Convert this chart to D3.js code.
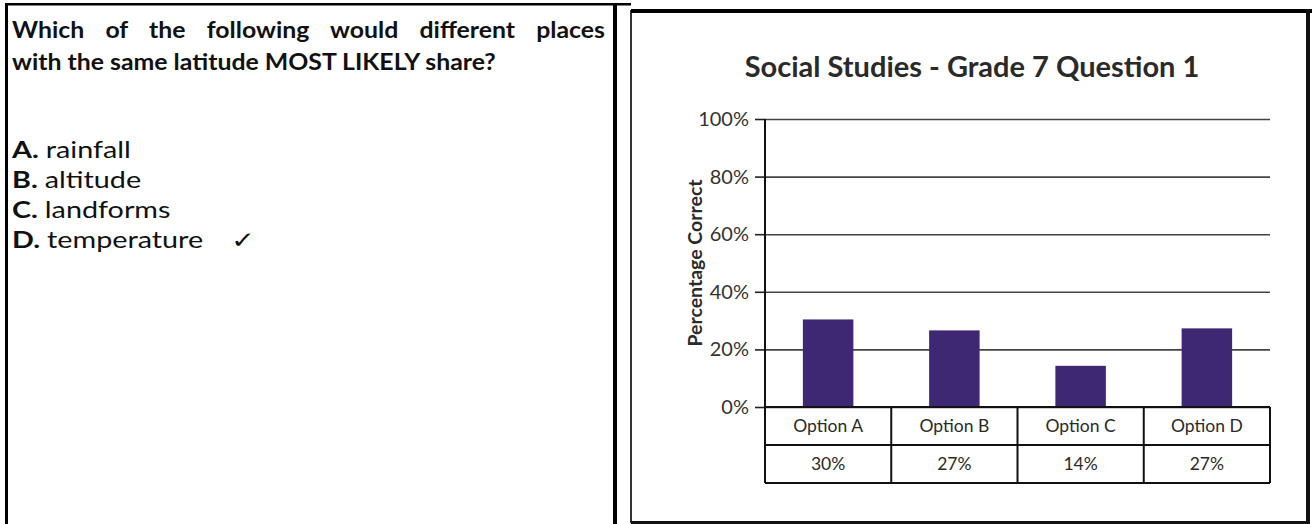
<!DOCTYPE html>
<html>
<head>
<meta charset="utf-8">
<script src="https://cdn.jsdelivr.net/npm/d3@7"></script>
<style>
  body { margin: 0; background: #fff; }
  svg { display: block; }
  .q { font-family: Lato, sans-serif; fill: #111; }
  .ch { font-family: Lato, sans-serif; fill: #2a2a2a; }
</style>
</head>
<body>
<section></section>
<script>
// question panel text
const question = ['Which of the following would different places', 'with the same latitude MOST LIKELY share?'];
const answerKeys = ['A.', 'B.', 'C.', 'D.'];
const answerText = ['rainfall', 'altitude', 'landforms', 'temperature'];
const correct = 'D.';

// chart data
const categories = ['Option A', 'Option B', 'Option C', 'Option D'];
const values = [30.4, 26.6, 14.3, 27.3];
const yticks = [0, 20, 40, 60, 80, 100];

const svg = d3.select('section')
  .append('svg')
  .attr('width', 1312)
  .attr('height', 524);

// outer frame of the two cells
svg.append('rect').attr('x', 5).attr('y', 3).attr('width', 3).attr('height', 521).attr('fill', '#000');
svg.append('rect').attr('x', 5).attr('y', 3).attr('width', 626).attr('height', 2.5).attr('fill', '#000');
svg.append('rect').attr('x', 613).attr('y', 3).attr('width', 4).attr('height', 521).attr('fill', '#000');

// chart picture box
svg.append('rect').attr('x', 631).attr('y', 11).attr('width', 676).attr('height', 511)
  .attr('fill', '#fff').attr('stroke', '#333').attr('stroke-width', 2);
svg.append('rect').attr('x', 631).attr('y', 9).attr('width', 681).attr('height', 4).attr('fill', '#000');
svg.append('rect').attr('x', 1306).attr('y', 9).attr('width', 4).attr('height', 515).attr('fill', '#111');
svg.append('rect').attr('x', 631).attr('y', 521).attr('width', 679).attr('height', 3).attr('fill', '#111');

// question, first line justified with word spacing
const qx = 1.08;
const qg = svg.append('g').attr('transform', `translate(12, 0) scale(${qx}, 1)`);
const q1 = qg.append('text').attr('class', 'q')
  .attr('x', 0).attr('y', 38)
  .attr('font-size', 23).attr('font-weight', 700)
  .text(question[0]);
const natural = q1.node().getComputedTextLength();
const gaps = question[0].split(' ').length - 1;
q1.attr('word-spacing', Math.max(0, (593 / qx - natural) / gaps));

qg.append('text').attr('class', 'q')
  .attr('x', 0).attr('y', 70)
  .attr('font-size', 23).attr('font-weight', 700)
  .text(question[1]);

// answers (wide in the source)
const sx = 1.25;
const ag = svg.append('g').attr('transform', `translate(12, 0) scale(${sx}, 1)`);
const ans = ag.selectAll('.ans')
  .data(answerKeys)
  .enter()
  .append('text')
  .attr('class', 'q ans')
  .attr('x', 0)
  .attr('y', (d, i) => 158 + i * 30)
  .attr('font-size', 23);
ans.append('tspan').attr('font-weight', 700).text(d => d + ' ');
ans.append('tspan').text((d, i) => answerText[i]);
ans.filter(d => d === correct).append('tspan').attr('dx', 22).text('\u2713');

// chart
const left = 765, right = 1270;
const xscale = d3.scaleBand().domain(categories).range([left, right]);
const yscale = d3.scaleLinear().domain([0, 100]).range([407, 119]);

svg.append('text').attr('class', 'ch')
  .attr('x', 972).attr('y', 77)
  .attr('text-anchor', 'middle')
  .attr('font-size', 29).attr('font-weight', 700)
  .attr('fill', '#222')
  .text('Social Studies - Grade 7 Question 1');

// gridlines
const grid = svg.append('g')
  .attr('transform', `translate(${left}, 0)`)
  .call(d3.axisLeft(yscale).tickValues(yticks).tickSize(-(right - left)).tickFormat(''));
grid.select('.domain').remove();
grid.selectAll('line').attr('stroke', '#444').attr('stroke-width', 1.6);

// tick marks and labels
const yaxis = svg.append('g')
  .attr('transform', `translate(${left}, 0)`)
  .call(d3.axisLeft(yscale).tickValues(yticks).tickSize(10).tickPadding(6).tickFormat(d => d + '%'));
yaxis.select('.domain').remove();
yaxis.selectAll('line').attr('stroke', '#222').attr('stroke-width', 1.6);
yaxis.selectAll('text')
  .attr('font-family', 'Lato, sans-serif')
  .attr('font-size', 20)
  .attr('fill', '#333');

svg.append('text').attr('class', 'ch')
  .attr('transform', `translate(702, ${(yscale(20) + yscale(80)) / 2}) rotate(-90)`)
  .attr('text-anchor', 'middle')
  .attr('font-size', 19.5).attr('font-weight', 700)
  .attr('fill', '#222')
  .text('Percentage Correct');

// bars
const bw = xscale.bandwidth() * 0.4;
svg.selectAll('.bar')
  .data(values)
  .enter()
  .append('rect')
  .attr('class', 'bar')
  .attr('x', (d, i) => xscale(categories[i]) + (xscale.bandwidth() - bw) / 2)
  .attr('y', d => yscale(d))
  .attr('width', bw)
  .attr('height', d => yscale(0) - yscale(d))
  .attr('fill', '#3f2873');

// vertical axis line running through the data table
const rowH = 38;
const tableTop = yscale(0);
svg.append('line')
  .attr('x1', left).attr('x2', left)
  .attr('y1', yscale(100)).attr('y2', tableTop + 2 * rowH)
  .attr('stroke', '#111').attr('stroke-width', 2);

// data table
const table = svg.append('g');
[0, 1, 2].forEach(r => {
  table.append('line')
    .attr('x1', left).attr('x2', right)
    .attr('y1', tableTop + r * rowH).attr('y2', tableTop + r * rowH)
    .attr('stroke', '#111').attr('stroke-width', 2);
});
table.selectAll('.col')
  .data(categories.slice(1).concat(['end']))
  .enter()
  .append('line')
  .attr('x1', d => d === 'end' ? right : xscale(d))
  .attr('x2', d => d === 'end' ? right : xscale(d))
  .attr('y1', tableTop).attr('y2', tableTop + 2 * rowH)
  .attr('stroke', '#111').attr('stroke-width', 2);

table.selectAll('.cat')
  .data(categories)
  .enter()
  .append('text')
  .attr('class', 'ch')
  .attr('x', d => xscale(d) + xscale.bandwidth() / 2)
  .attr('y', tableTop + rowH / 2 + 6)
  .attr('text-anchor', 'middle')
  .attr('font-size', 17.5)
  .text(d => d);

table.selectAll('.val')
  .data(values)
  .enter()
  .append('text')
  .attr('class', 'ch')
  .attr('x', (d, i) => xscale(categories[i]) + xscale.bandwidth() / 2)
  .attr('y', tableTop + rowH * 1.5 + 6)
  .attr('text-anchor', 'middle')
  .attr('font-size', 17.5)
  .text(d => d3.format('.0f')(d) + '%');
</script>
</body>
</html>
